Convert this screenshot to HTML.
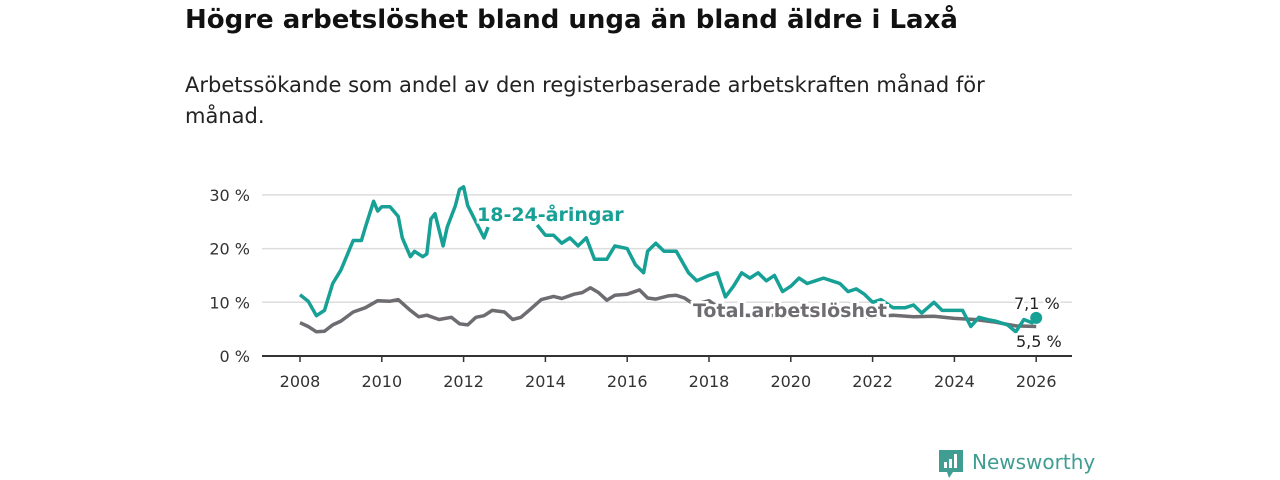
<!DOCTYPE html>
<html><head><meta charset="utf-8"><style>
body{margin:0;width:1280px;height:480px;background:#fff;font-family:"DejaVu Sans","Liberation Sans",sans-serif;overflow:hidden;position:relative}
#title{position:absolute;left:185px;top:5px;font-size:26px;font-weight:bold;color:#111;margin:0;white-space:nowrap}
#sub{position:absolute;left:185px;top:70px;font-size:21px;color:#222;line-height:31px;width:840px;margin:0}
svg{position:absolute;left:0;top:0}
</style></head><body>
<h1 id="title">Högre arbetslöshet bland unga än bland äldre i Laxå</h1>
<p id="sub">Arbetssökande som andel av den registerbaserade arbetskraften månad för månad.</p>
<svg id="chart" width="1280" height="480"></svg>
<script>
const yTicks=[0,10,20,30];
const xTicks=[2008,2010,2012,2014,2016,2018,2020,2022,2024,2026];
const youthX=[2008.0,2008.2,2008.4,2008.6,2008.8,2009.0,2009.3,2009.5,2009.6,2009.8,2009.9,2010.0,2010.2,2010.4,2010.5,2010.7,2010.8,2011.0,2011.1,2011.2,2011.3,2011.5,2011.6,2011.8,2011.9,2012.0,2012.1,2012.3,2012.5,2012.6,2013.0,2013.4,2013.8,2014.0,2014.2,2014.4,2014.6,2014.8,2015.0,2015.2,2015.5,2015.7,2016.0,2016.2,2016.4,2016.5,2016.7,2016.9,2017.2,2017.5,2017.7,2018.0,2018.2,2018.4,2018.6,2018.8,2019.0,2019.2,2019.4,2019.6,2019.8,2020.0,2020.2,2020.4,2020.6,2020.8,2021.0,2021.2,2021.4,2021.6,2021.8,2022.0,2022.2,2022.5,2022.8,2023.0,2023.2,2023.5,2023.7,2024.0,2024.2,2024.4,2024.6,2024.8,2025.0,2025.3,2025.5,2025.7,2025.9,2026.0];
const youthV=[11.4,10.2,7.5,8.5,13.5,16,21.5,21.5,24,28.8,27,27.8,27.8,26,22,18.5,19.5,18.5,19,25.5,26.5,20.5,24,28,31,31.5,28,25,22,24,null,null,24.4,22.5,22.5,21,22,20.5,22,18,18,20.5,20,17,15.5,19.5,21,19.5,19.5,15.5,14,15,15.5,11,13,15.5,14.5,15.5,14,15,12,13,14.5,13.5,14,14.5,14,13.5,12,12.5,11.5,10,10.5,9,9,9.5,8,10,8.5,8.5,8.5,5.5,7.2,6.8,6.5,5.8,4.5,6.8,6.2,7.1];
const totX=[2008.0,2008.2,2008.4,2008.6,2008.8,2009.0,2009.3,2009.6,2009.9,2010.2,2010.4,2010.7,2010.9,2011.1,2011.4,2011.7,2011.9,2012.1,2012.3,2012.5,2012.7,2013.0,2013.2,2013.4,2013.6,2013.9,2014.2,2014.4,2014.7,2014.9,2015.1,2015.3,2015.5,2015.7,2016.0,2016.3,2016.5,2016.7,2017.0,2017.2,2017.4,2017.6,2017.8,2018.0,2018.5,2019.0,2020.0,2021.0,2022.0,2022.5,2023.0,2023.5,2024.0,2024.5,2025.0,2025.5,2026.0];
const totV=[6.2,5.5,4.5,4.6,5.8,6.5,8.2,9.0,10.3,10.2,10.5,8.5,7.3,7.6,6.8,7.2,6.0,5.8,7.2,7.5,8.5,8.2,6.8,7.2,8.5,10.5,11.1,10.7,11.5,11.8,12.7,11.8,10.4,11.3,11.5,12.3,10.8,10.6,11.2,11.3,10.8,9.8,9.9,10.3,7.5,7.6,7.5,7.4,7.2,7.6,7.3,7.4,7.0,6.8,6.3,5.6,5.5];
const NS='http://www.w3.org/2000/svg',svg=document.getElementById('chart');
const X=y=>300+(y-2008)*40.9, Y=v=>356-v*5.37;
function mk(t,a,p){const e=document.createElementNS(NS,t);for(const k in a)e.setAttribute(k,a[k]);(p||svg).appendChild(e);return e;}
yTicks.forEach(v=>{
 if(v>0){const g=mk('line',{x1:262,x2:1072,y1:Y(v),y2:Y(v),stroke:'#ddd','stroke-width':1.5});
 
 }
 const t=mk('text',{x:250,y:Y(v)+6,'text-anchor':'end','font-size':16,fill:'#333'});t.textContent=v+' %';
 
 
});
const ax=mk('line',{x1:262,x2:1072,y1:356,y2:356,stroke:'#333','stroke-width':2});


xTicks.forEach(y=>{
 mk('line',{x1:X(y),x2:X(y),y1:356,y2:362,stroke:'#333','stroke-width':1.5});
 const t=mk('text',{x:X(y),y:387,'text-anchor':'middle','font-size':16,fill:'#333'});t.textContent=y;
 
 
});
function line(xs,vs,c,n){let d='',pen=false;
 xs.forEach((x,i)=>{if(vs[i]==null){pen=false;return;}d+=(pen?'L':'M')+X(x).toFixed(1)+','+Y(vs[i]).toFixed(1);pen=true;});
 const p=mk('path',{d:d,fill:'none',stroke:c,'stroke-width':3.5,'stroke-linejoin':'round'});
 
 }
line(totX,totV,'#6e6c71','total-line');
line(youthX,youthV,'#17a096','youth-line');
const dot=mk('circle',{cx:X(youthX[youthX.length-1]),cy:Y(youthV[youthV.length-1]),r:6,fill:'#17a096'});


function lab(x,y,txt,c,n,w,s){const t=mk('text',{x:x,y:y,'font-size':s||19,'font-weight':w||'bold',fill:c,stroke:'#fff','stroke-width':5,'paint-order':'stroke'});t.textContent=txt;
 
 }
lab(477,221,'18-24-åringar','#17a096','youth-series-label');
lab(693,317,'Total arbetslöshet','#6e6c71','total-series-label');
lab(1014,309,'7,1 %','#222','youth-end-value','normal',16);
lab(1016,347,'5,5 %','#222','total-end-value','normal',16);
</script>
<div style="position:absolute;left:938px;top:448px;display:flex;align-items:center">
<svg width="26" height="32" style="position:static"><path d="M1 2h24v22H15l-4 6-2-6H1z" fill="#3f9d92"/><rect x="6" y="14" width="3" height="6" fill="#fff"/><rect x="11" y="11" width="3" height="9" fill="#fff"/><rect x="16" y="6" width="3" height="14" fill="#fff"/></svg>
<span style="font-size:20px;color:#3f9d92;margin-left:8px;margin-top:-4px">Newsworthy</span></div>
</body></html>
